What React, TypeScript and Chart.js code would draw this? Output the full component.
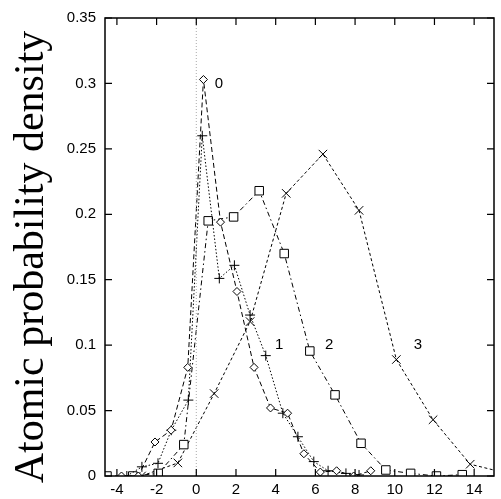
import React, { useEffect, useRef } from "react";
import { Chart, registerables } from "chart.js";

Chart.register(...registerables);

// ---- data ----
const s0X = [-3.77, -2.92, -2.08, -1.27, -0.43, 0.36, 1.22, 2.05, 2.91, 3.74, 4.6, 5.42, 6.25, 7.07, 7.93, 8.79];
const s0Y = [0, 0, 0.026, 0.035, 0.083, 0.303, 0.194, 0.141, 0.083, 0.052, 0.048, 0.017, 0.003, 0.004, 0, 0.004];

const s1X = [-3.5, -2.74, -1.93, -1.26, -0.4, 0.3, 1.16, 1.92, 2.71, 3.5, 4.36, 5.12, 5.92, 6.64, 7.54, 8.2];
const s1Y = [0, 0.007, 0.0097, 0.035, 0.058, 0.26, 0.151, 0.161, 0.123, 0.092, 0.048, 0.03, 0.011, 0.004, 0.002, 0.0008];

const s2X = [-4.5, -3.2, -1.92, -0.63, 0.6, 1.88, 3.17, 4.43, 5.72, 6.99, 8.3, 9.55, 10.8, 12.1, 13.4];
const s2Y = [0, 0, 0.002, 0.024, 0.195, 0.198, 0.218, 0.17, 0.0955, 0.062, 0.025, 0.0046, 0.002, 0, 0.001];

const s3X = [-2.76, -0.93, 0.9, 2.71, 4.53, 6.38, 8.2, 10.08, 11.93, 13.8, 15.63];
const s3Y = [0, 0.01, 0.063, 0.118, 0.216, 0.246, 0.203, 0.089, 0.043, 0.009, 0.0022];

const xTicks = [-4, -2, 0, 2, 4, 6, 8, 10, 12, 14];
const yTicks = [0, 0.05, 0.1, 0.15, 0.2, 0.25, 0.3, 0.35];
const yTickLabels = ["0", "0.05", "0.1", "0.15", "0.2", "0.25", "0.3", "0.35"];

const curveLabels = ["0", "1", "2", "3"];
const curveLabelX = [1.14, 4.17, 6.7, 11.17];
const curveLabelY = [0.2995, 0.1, 0.1, 0.1];

const yTitle = "Atomic probability density";

const zip = (xs: number[], ys: number[]) => xs.map((x, i) => ({ x, y: ys[i] }));

const decorPlugin = {
  id: "decor",
  afterDraw(chart: any) {
    const { ctx, chartArea } = chart;
    const xs = chart.scales.x;
    const ys = chart.scales.y;
    const { left, right, top, bottom } = chartArea;
    ctx.save();
    ctx.strokeStyle = "#000";
    ctx.lineWidth = 1.5;
    ctx.setLineDash([]);
    ctx.strokeRect(left, top, right - left, bottom - top);
    ctx.lineWidth = 1.2;
    const tl = 7;
    ctx.beginPath();
    xs.ticks.forEach((t: any) => {
      const px = xs.getPixelForValue(t.value);
      ctx.moveTo(px, bottom);
      ctx.lineTo(px, bottom - tl);
      ctx.moveTo(px, top);
      ctx.lineTo(px, top + tl);
    });
    ys.ticks.forEach((t: any) => {
      const py = ys.getPixelForValue(t.value);
      ctx.moveTo(left, py);
      ctx.lineTo(left + tl, py);
      ctx.moveTo(right, py);
      ctx.lineTo(right - tl, py);
    });
    ctx.stroke();

    ctx.fillStyle = "#000";
    ctx.font = "15px 'Liberation Sans', Arial, sans-serif";
    ctx.textAlign = "center";
    ctx.textBaseline = "middle";
    curveLabels.forEach((lab, i) => {
      ctx.fillText(lab, xs.getPixelForValue(curveLabelX[i]), ys.getPixelForValue(curveLabelY[i]));
    });

    ctx.translate(43, 257);
    ctx.rotate(-Math.PI / 2);
    ctx.font = "42px 'Liberation Serif', 'Times New Roman', serif";
    ctx.textBaseline = "alphabetic";
    ctx.fillText(yTitle, 0, 0);
    ctx.restore();
  },
};

export default function App() {
  const ref = useRef<HTMLCanvasElement | null>(null);
  useEffect(() => {
    if (!ref.current) return;
    const common = {
      borderColor: "#000",
      backgroundColor: "#fff",
      pointBorderColor: "#000",
      pointBackgroundColor: "#fff",
      borderWidth: 1,
      pointBorderWidth: 1,
      tension: 0,
      fill: false,
    };
    const chart = new Chart(ref.current, {
      type: "line",
      data: {
        datasets: [
          {
            label: "zero",
            data: [{ x: 0, y: 0 }, { x: 0, y: 0.35 }],
            borderColor: "#aaa",
            borderWidth: 1,
            borderDash: [1, 2],
            pointRadius: 0,
          },
          {
            ...common,
            label: "0",
            data: zip(s0X, s0Y),
            borderDash: [5, 3],
            pointStyle: "rectRot",
            pointRadius: 4,
          },
          {
            ...common,
            label: "1",
            data: zip(s1X, s1Y),
            borderDash: [1.5, 2],
            pointStyle: "cross",
            pointRadius: 5,
          },
          {
            ...common,
            label: "2",
            data: zip(s2X, s2Y),
            borderDash: [5, 3, 1.5, 3],
            pointStyle: "rect",
            pointRadius: 6,
          },
          {
            ...common,
            label: "3",
            data: zip(s3X, s3Y),
            borderDash: [3, 2.5],
            pointStyle: "crossRot",
            pointRadius: 6,
          },
        ],
      } as any,
      options: {
        animation: false,
        responsive: false,
        events: [],
        layout: { padding: { top: 17, right: 1, left: 0, bottom: 0 } },
        plugins: { legend: { display: false }, tooltip: { enabled: false } },
        scales: {
          x: {
            type: "linear",
            min: -4.6,
            max: 15,
            afterBuildTicks: (s: any) => {
              s.ticks = xTicks.map((value) => ({ value }));
            },
            afterFit: (s: any) => {
              s.height = 23;
            },
            grid: { display: false, drawTicks: false },
            border: { display: false },
            ticks: {
              color: "#000",
              padding: 5,
              maxRotation: 0,
              autoSkip: false,
              font: { family: "'Liberation Sans', Arial, sans-serif", size: 15 },
              callback: (v: any) => String(v),
            },
          },
          y: {
            type: "linear",
            min: 0,
            max: 0.35,
            afterBuildTicks: (s: any) => {
              s.ticks = yTicks.map((value) => ({ value }));
            },
            afterFit: (s: any) => {
              s.width = 105;
            },
            grid: { display: false, drawTicks: false },
            border: { display: false },
            ticks: {
              color: "#000",
              padding: 9,
              autoSkip: false,
              font: { family: "'Liberation Sans', Arial, sans-serif", size: 15 },
              callback: (_v: any, i: number) => yTickLabels[i],
            },
          },
        },
      } as any,
      plugins: [decorPlugin],
    });
    return () => chart.destroy();
  }, []);
  return (
    <div style={{ position: "fixed", left: 0, top: 0, width: 501, height: 499, background: "#fff" }}>
      <canvas ref={ref} width={501} height={499} style={{ width: 501, height: 499, display: "block" }} />
    </div>
  );
}
